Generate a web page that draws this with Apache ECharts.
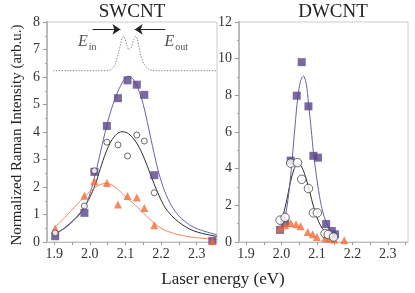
<!DOCTYPE html>
<html><head><meta charset="utf-8">
<script src="https://cdn.jsdelivr.net/npm/echarts@6/dist/echarts.min.js"></script>
<style>html,body{margin:0;padding:0;background:#fff}#c{width:415px;height:293px}</style>
</head><body><div id="c"></div>
<script>
// ---- tick labels ----
const xTickLabels = [1.9, 2.0, 2.1, 2.2, 2.3];
const xTickMarks = [1.9, 1.95, 2.0, 2.05, 2.1, 2.15, 2.2, 2.25, 2.3, 2.35];

// ---- SWCNT data ----
const swSquares = [[1.903,0.21],[1.985,1.06],[2.013,2.55],[2.048,4.22],[2.079,5.23],[2.106,5.88],[2.132,5.72],[2.153,5.35],[2.181,2.43],[2.344,0.04]];
const swCircles = [[1.903,0.33],[1.985,1.31],[2.013,2.59],[2.048,3.63],[2.079,3.53],[2.106,3.13],[2.132,3.89],[2.153,3.67],[2.181,1.79]];
const swTriangles = [[1.903,0.49],[1.985,1.68],[2.013,2.21],[2.048,2.15],[2.079,1.36],[2.106,1.67],[2.132,1.62],[2.153,1.24],[2.181,0.61],[2.344,0.04]];
const swPurpleFit = [[1.903,0.31],[1.93,0.5],[1.95,0.72],[1.97,0.98],[1.99,1.38],[2.005,1.95],[2.02,2.7],[2.035,3.55],[2.05,4.35],[2.065,5.0],[2.08,5.5],[2.095,5.88],[2.107,6.03],[2.12,5.95],[2.135,5.6],[2.15,5.0],[2.165,4.15],[2.18,3.25],[2.195,2.45],[2.21,1.85],[2.23,1.3],[2.25,0.95],[2.28,0.62],[2.31,0.44],[2.357,0.26]];
const swBlackFit = [[1.903,0.28],[1.93,0.52],[1.955,0.8],[1.98,1.17],[2.0,1.62],[2.015,2.08],[2.03,2.68],[2.045,3.25],[2.06,3.67],[2.075,3.92],[2.09,4.01],[2.105,3.97],[2.12,3.8],[2.135,3.53],[2.15,3.13],[2.165,2.64],[2.18,2.13],[2.195,1.67],[2.21,1.28],[2.23,0.95],[2.25,0.72],[2.28,0.47],[2.31,0.33],[2.357,0.2]];
const swOrangeFit = [[1.903,0.55],[1.925,0.82],[1.945,1.1],[1.965,1.38],[1.985,1.64],[2.0,1.83],[2.015,1.98],[2.03,2.09],[2.045,2.13],[2.06,2.09],[2.075,1.96],[2.09,1.78],[2.105,1.6],[2.12,1.43],[2.135,1.25],[2.15,1.06],[2.165,0.87],[2.18,0.69],[2.2,0.5],[2.22,0.38],[2.25,0.26],[2.29,0.17],[2.357,0.09]];
const swDotted = [[1.898,6.23],[2.052,6.23],[2.062,6.3],[2.071,6.45],[2.083,7.0],[2.09,7.38],[2.094,7.48],[2.099,7.38],[2.104,7.15],[2.111,6.98],[2.118,7.12],[2.124,7.38],[2.129,7.48],[2.134,7.36],[2.141,6.9],[2.151,6.5],[2.165,6.29],[2.179,6.23],[2.357,6.23]];

// ---- DWCNT data ----
const dwSquares = [[1.996,0.66],[2.010,1.04],[2.026,4.44],[2.043,7.98],[2.057,9.81],[2.076,7.40],[2.090,4.70],[2.103,4.60],[2.126,0.98],[2.142,0.6],[2.151,0.42]];
const dwCircles = [[1.996,1.19],[2.010,1.34],[2.026,4.30],[2.045,4.33],[2.057,3.42],[2.076,2.92],[2.090,1.59],[2.101,1.59],[2.123,0.46],[2.132,0.41],[2.147,0.27]];
const dwTriangles = [[1.996,0.73],[2.010,0.91],[2.026,1.04],[2.041,0.97],[2.054,0.86],[2.074,0.55],[2.088,0.42],[2.100,0.27],[2.123,0.2],[2.135,0.18],[2.149,0.13],[2.177,0.09]];
const dwPurpleFit = [[1.998,0.7],[2.006,1.1],[2.014,1.75],[2.022,2.9],[2.03,4.5],[2.038,6.3],[2.046,7.9],[2.054,8.8],[2.062,9.05],[2.07,8.6],[2.076,7.6],[2.084,6.1],[2.09,4.9],[2.1,3.4],[2.11,2.2],[2.12,1.4],[2.13,0.9],[2.14,0.58],[2.151,0.35]];
const dwBlackFit = [[1.996,1.0],[2.005,1.5],[2.015,2.3],[2.025,3.25],[2.035,3.95],[2.045,4.28],[2.055,4.15],[2.065,3.72],[2.075,3.08],[2.085,2.32],[2.095,1.62],[2.105,1.1],[2.115,0.75],[2.125,0.52],[2.135,0.38],[2.151,0.25]];

const SERIF = '"Liberation Serif","DejaVu Serif",serif';
const PURPLE = '#5b4289', PURPLE_LINE = '#6e5fa5', ORANGE = '#f26a36', ORANGE_LINE = '#f4875a', BLACK = '#2b2b2b';

function xAxisDef(gi){
  return {
    type:'value', gridIndex:gi, min:1.88, max:2.357,
    axisLine:{show:true, lineStyle:{color:'#bbb', width:1}},
    axisTick:{show:true, inside:false, length:3, customValues:xTickMarks, lineStyle:{color:'#999'}},
    axisLabel:{customValues:xTickLabels, formatter:v=>v.toFixed(1), fontFamily:SERIF, fontSize:14, color:'#333', margin:5},
    splitLine:{show:false}
  };
}
function yAxisDef(gi, max, interval){
  return {
    type:'value', gridIndex:gi, min:0, max:max, interval:interval,
    axisLine:{show:true, lineStyle:{color:'#bbb', width:2}},
    axisTick:{show:true, length:4, lineStyle:{color:'#999'}},
    minorTick:{show:true, splitNumber:2, length:2, lineStyle:{color:'#aaa'}},
    axisLabel:{fontFamily:SERIF, fontSize:14, color:'#333', margin:7},
    splitLine:{show:false}
  };
}
function fit(data, color, xi){
  return {type:'line', xAxisIndex:xi, yAxisIndex:xi, data:data, showSymbol:false, symbol:'none', smooth:0.3,
    lineStyle:{color:color, width:1}, z:2, silent:true};
}
function pts(data, sym, size, color, xi, hollow){
  return {type:'scatter', xAxisIndex:xi, yAxisIndex:xi, data:data, symbol:sym, symbolSize:size,
    itemStyle: hollow ? {color:'#fff', borderColor:'#333', borderWidth:0.9} : {color:color}, z:hollow?4:3, silent:true};
}

const chart = echarts.init(document.getElementById('c'), null, {renderer:'canvas'});
chart.setOption({
  animation:false,
  backgroundColor:'#fff',
  grid:[
    {left:47, top:22, width:170, height:220, show:true, borderColor:'#ccc', borderWidth:1},
    {left:239, top:22, width:169, height:220, show:true, borderColor:'#ccc', borderWidth:1}
  ],
  xAxis:[xAxisDef(0), xAxisDef(1)],
  yAxis:[yAxisDef(0, 8, 1), yAxisDef(1, 12, 2)],
  series:[
    {type:'line', xAxisIndex:0, yAxisIndex:0, data:swDotted, symbol:'none', smooth:0.3, silent:true,
      lineStyle:{color:'#777', width:1, type:[1.2,1.6]}, z:1,
      markLine:{silent:true, symbol:['none','arrow'], symbolSize:8, label:{show:false},
        lineStyle:{color:'#222', width:1, type:'solid'},
        emphasis:{disabled:true},
        data:[
          [{coord:[2.008,7.73]},{coord:[2.086,7.73]}],
          [{coord:[2.212,7.73]},{coord:[2.126,7.73]}]
        ]}},
    fit(swBlackFit, BLACK, 0),
    fit(swPurpleFit, PURPLE_LINE, 0),
    fit(swOrangeFit, ORANGE_LINE, 0),
    pts(swSquares, 'rect', 8, PURPLE, 0, false),
    pts(swTriangles, 'triangle', 8, ORANGE, 0, false),
    pts(swCircles, 'circle', 6, null, 0, true),
    fit(dwBlackFit, BLACK, 1),
    fit(dwPurpleFit, PURPLE_LINE, 1),
    pts(dwSquares, 'rect', 8, PURPLE, 1, false),
    pts(dwTriangles, 'triangle', 8, ORANGE, 1, false),
    pts(dwCircles, 'circle', 8.5, null, 1, true),
    {type:'scatter', xAxisIndex:0, yAxisIndex:0, symbolSize:0, silent:true, z:5,
      label:{show:true, position:'inside', color:'#222',
        rich:{e:{fontFamily:SERIF, fontStyle:'italic', fontSize:16, lineHeight:20, color:'#222'},
              s:{fontFamily:SERIF, fontSize:10, lineHeight:20, verticalAlign:'bottom', padding:[6,0,0,1], color:'#222'}}},
      data:[
        {value:[1.993,7.27], label:{formatter:'{e|E}{s|in}'}},
        {value:[2.243,7.27], label:{formatter:'{e|E}{s|out}'}}
      ]}
  ],
  graphic:[
    {type:'text', x:132, y:12, style:{text:'SWCNT', font:'19px '+SERIF, fill:'#222', align:'center', verticalAlign:'middle'}},
    {type:'text', x:333, y:12, style:{text:'DWCNT', font:'19px '+SERIF, fill:'#222', align:'center', verticalAlign:'middle'}},
    {type:'text', x:223, y:280, style:{text:'Laser energy (eV)', font:'17px '+SERIF, fill:'#222', align:'center', verticalAlign:'middle'}},
    {type:'text', x:17, y:135, rotation:Math.PI/2, style:{text:'Normalized Raman Intensity (arb.u.)', font:'15px '+SERIF, fill:'#222', align:'center', verticalAlign:'middle'}}
  ]
});
</script></body></html>
